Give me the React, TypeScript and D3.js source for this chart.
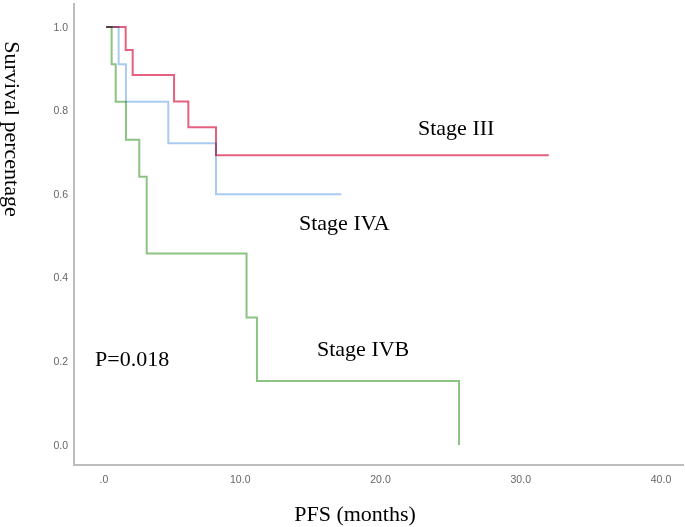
import React from 'react';
import * as d3 from 'd3';

// Kaplan-Meier steps (months, survival)
const stageIIITimes = [0.43, 1.83, 2.33, 5.28, 6.3, 8.27, 32.0];
const stageIIISurv = [1, 0.945, 0.885, 0.822, 0.76, 0.693, 0.693];

const stageIVATimes = [0.43, 1.33, 1.85, 4.87, 8.27, 17.2];
const stageIVASurv = [1, 0.911, 0.821, 0.722, 0.6, 0.6];

const stageIVBTimes = [0.43, 0.83, 1.12, 1.85, 2.8, 3.33, 10.45, 11.19, 25.6];
const stageIVBSurv = [1, 0.911, 0.821, 0.73, 0.642, 0.458, 0.305, 0.153, 0];

const xTicks = [0, 10, 20, 30, 40];
const xTickLabels = ['.0', '10.0', '20.0', '30.0', '40.0'];
const yTicks = [0, 0.2, 0.4, 0.6, 0.8, 1.0];
const yTickLabels = ['0.0', '0.2', '0.4', '0.6', '0.8', '1.0'];

const width = 685;
const height = 527;

const App = () => {
  const x = d3.scaleLinear().domain([0, 40]).range([100, 661]);
  const y = d3.scaleLinear().domain([0, 1]).range([445, 27]);

  const line = d3
    .line<[number, number]>()
    .x(d => x(d[0]))
    .y(d => y(d[1]))
    .curve(d3.curveStepAfter);

  const series = [
    { name: 'IVB', times: stageIVBTimes, surv: stageIVBSurv, color: '#8cc383' },
    { name: 'IVA', times: stageIVATimes, surv: stageIVASurv, color: '#a9cbf2' },
    { name: 'III', times: stageIIITimes, surv: stageIIISurv, color: '#e5617f' },
  ];

  const serif = '"Liberation Serif", "Times New Roman", serif';
  const sans = '"Liberation Sans", Arial, sans-serif';

  return (
    <svg
      width={width}
      height={height}
      style={{ position: 'absolute', left: 0, top: 0, background: '#fff' }}
    >
      {/* axes */}
      <line x1={74} x2={74} y1={3} y2={466} stroke="#bdbdbd" strokeWidth={2} />
      <line x1={73} x2={684} y1={465} y2={465} stroke="#bdbdbd" strokeWidth={2} />

      {yTicks.map((t, i) => (
        <text
          key={'y' + i}
          x={68}
          y={y(t)}
          dy="0.35em"
          textAnchor="end"
          fontFamily={sans}
          fontSize={10.5}
          fill="#666"
        >
          {yTickLabels[i]}
        </text>
      ))}
      {xTicks.map((t, i) => (
        <text
          key={'x' + i}
          x={x(t) + (i === 0 ? 4 : 0)}
          y={483}
          textAnchor="middle"
          fontFamily={sans}
          fontSize={10.5}
          fill="#666"
        >
          {xTickLabels[i]}
        </text>
      ))}

      {/* curves */}
      <g style={{ isolation: 'isolate' }}>
        {series.map(s => (
          <path
            key={s.name}
            d={line(s.times.map((t, i) => [t, s.surv[i]] as [number, number])) || ''}
            fill="none"
            stroke={s.color}
            strokeWidth={2}
            style={{ mixBlendMode: 'multiply' }}
          />
        ))}
      </g>

      {/* annotations */}
      <text x={418} y={135} fontFamily={serif} fontSize={22} fill="#000">Stage III</text>
      <text x={299} y={230} fontFamily={serif} fontSize={22} fill="#000">Stage IVA</text>
      <text x={317} y={356} fontFamily={serif} fontSize={22} fill="#000">Stage IVB</text>
      <text x={95} y={366} fontFamily={serif} fontSize={22} fill="#000">P=0.018</text>

      <text
        x={355}
        y={521}
        textAnchor="middle"
        fontFamily={serif}
        fontSize={22}
        fill="#000"
      >
        PFS (months)
      </text>
      <text
        transform="translate(5,129) rotate(90)"
        textAnchor="middle"
        fontFamily={serif}
        fontSize={22}
        fill="#000"
      >
        Survival percentage
      </text>
    </svg>
  );
};

export default App;
